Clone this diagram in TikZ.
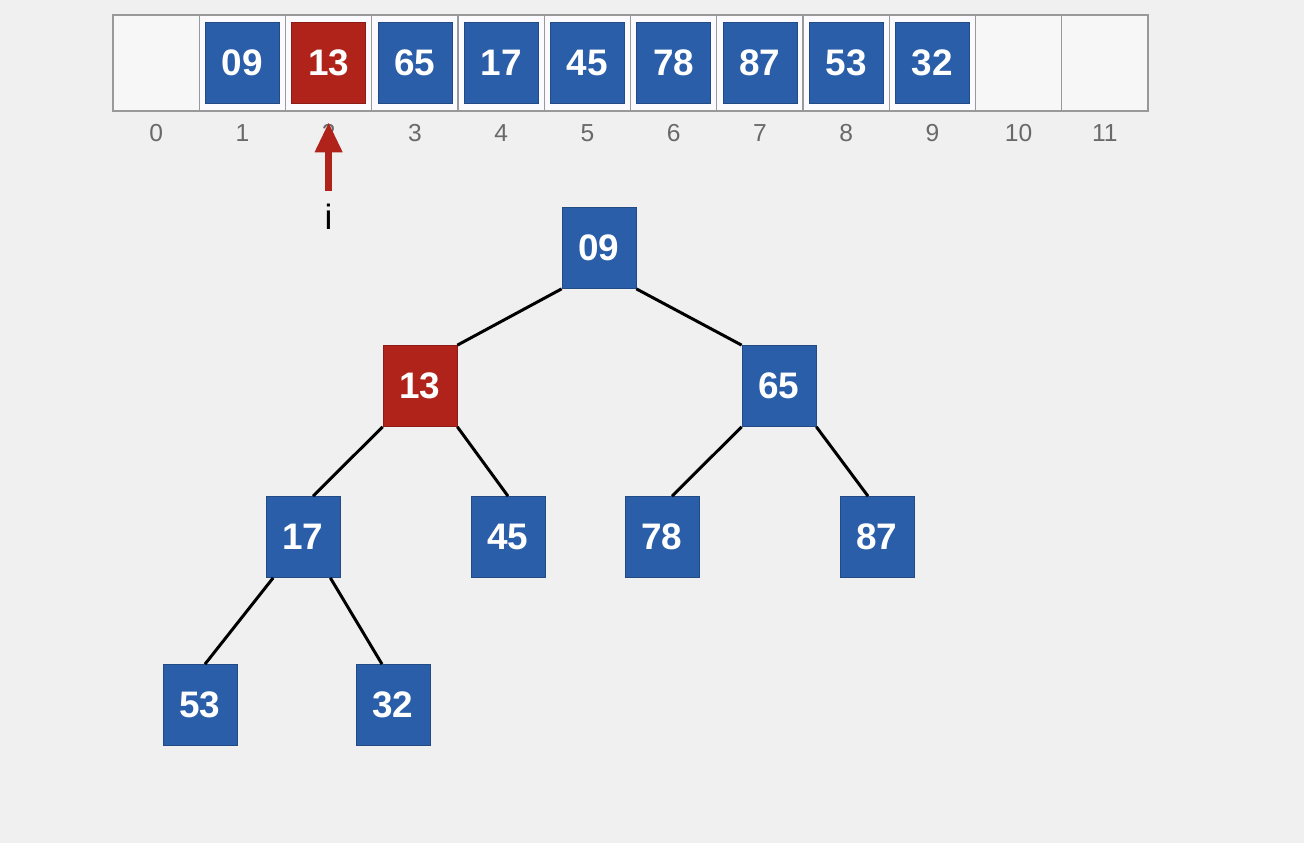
\documentclass[tikz,border=0pt]{standalone}
\usepackage{fontspec}
\setmainfont{Liberation Sans}
\usepackage{tikz}
\usetikzlibrary{arrows.meta, positioning}
\definecolor{blu}{RGB}{42, 94, 168}
\definecolor{hot}{RGB}{176, 35, 27}
\definecolor{bg}{RGB}{240, 240, 240}
\definecolor{idx}{RGB}{105, 105, 105}

\begin{document}
\begin{tikzpicture}[
    >=Stealth,
    key/.style={rectangle, draw=#1!80!black, fill=#1, text=white,
      minimum width=1.48cm, minimum height=1.62cm, inner sep=0pt,
      font=\fontsize{21}{24}\selectfont\bfseries, line width=0.4pt},
    slot/.style={rectangle, draw=black!40, fill=#1, minimum width=1.725cm,
      minimum height=1.92cm, inner sep=0pt, line width=0.6pt},
    edge/.style={line width=1.7pt, black}
  ]
  % background and frame
  \fill[bg] (0,0) rectangle (26.08,-16.86);
  \useasboundingbox (0,0) rectangle (26.08,-16.86);

  % array slots
  \foreach \k in {0,...,11} {
    \ifnum\k=0 \def\sf{white!97!black}\else
      \ifnum\k>9 \def\sf{white!97!black}\else \def\sf{blue!2!white}\fi\fi
    \node[slot=\sf] (cell\k) at ({2.26+1.725*(\k+0.5)}, -1.26) {};
    \node[text=idx, font=\fontsize{14}{16}\selectfont] (idx\k)
      at ({2.26+1.725*(\k+0.5)}, -2.66) {\k};
  }

  % array contents
  \foreach \k/\v/\c in {1/09/blu, 2/13/hot, 3/65/blu, 4/17/blu, 5/45/blu,
                        6/78/blu, 7/87/blu, 8/53/blu, 9/32/blu}
    \node[key=\c] (a\k) at (cell\k) {\v};

  % pointer i
  \node[font=\fontsize{20}{22}\selectfont] (ptr) at (a2 |- 0,-4.34) {i};
  \coordinate (ptail) at ([yshift=0.14cm]ptr.north);
  \draw[-{Triangle[length=0.6cm, width=0.52cm]}, hot, line width=0.14cm]
    (ptail) -- ([yshift=-0.37cm]a2.south);

  % heap tree
  \node[key=blu] (n09) at (11.98, -4.96) {09};
  \node[key=hot] (n13) at (8.40, -7.72) {13};
  \node[key=blu] (n65) at (15.58, -7.72) {65};
  \node[key=blu] (n17) at (6.06, -10.74) {17};
  \node[key=blu] (n45) at (10.16, -10.74) {45};
  \node[key=blu] (n78) at (13.24, -10.74) {78};
  \node[key=blu] (n87) at (17.54, -10.74) {87};
  \node[key=blu] (n53) at (4.00, -14.10) {53};
  \node[key=blu] (n32) at (7.86, -14.10) {32};

  \draw[edge] (n09.south west) -- (n13.north east);
  \draw[edge] (n09.south east) -- (n65.north west);
  \draw[edge] (n13.south west) -- ([xshift=0.2cm]n17.north);
  \draw[edge] (n13.south east) -- (n45.north);
  \draw[edge] (n65.south west) -- ([xshift=0.2cm]n78.north);
  \draw[edge] (n65.south east) -- ([xshift=-0.18cm]n87.north);
  \draw[edge] ([xshift=0.15cm]n17.south west) -- ([xshift=0.1cm]n53.north);
  \draw[edge] ([xshift=-0.2cm]n17.south east) -- ([xshift=-0.22cm]n32.north);
\end{tikzpicture}
\end{document}
